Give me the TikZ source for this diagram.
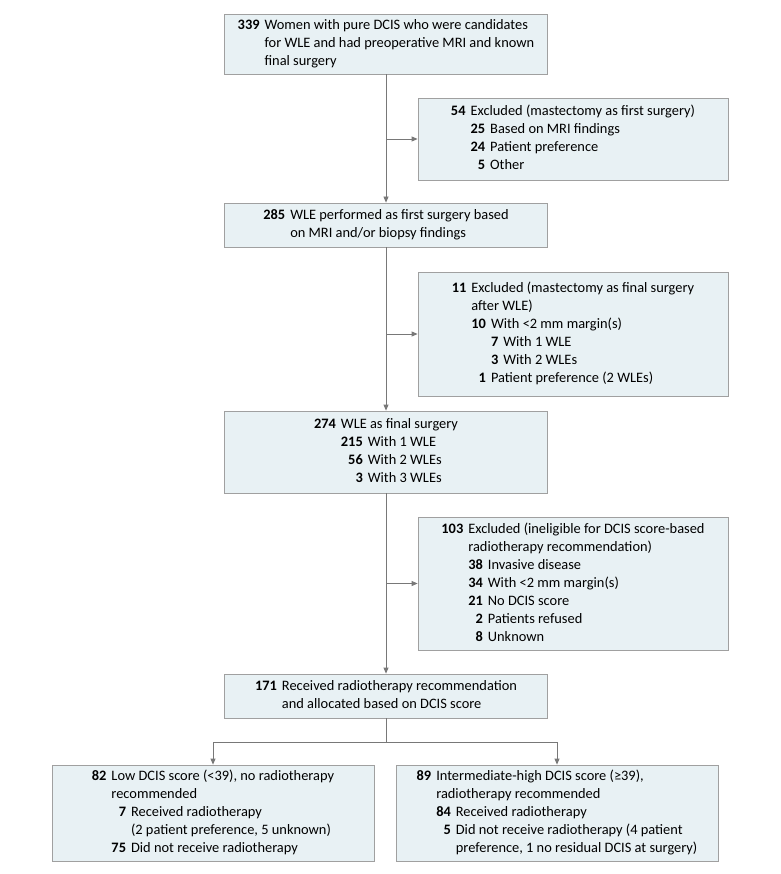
\documentclass[tikz,border=0pt]{standalone}
\usepackage{fontspec}
\setmainfont{Carlito}
\usepackage{array}
\usetikzlibrary{arrows.meta,positioning,calc}

\definecolor{boxfill}{RGB}{232,241,244}
\definecolor{boxline}{RGB}{160,160,160}
\definecolor{arrline}{RGB}{120,120,120}
\newcolumntype{N}{r@{\hspace{5pt}}}
\newcommand{\nb}[1]{\textbf{#1}}
\newcommand{\mc}[2]{\multicolumn{#1}{@{}l@{}}{#2}}

\begin{document}
\begin{tikzpicture}[x=1pt,y=-1pt,
  flowbox/.style={draw=boxline,fill=boxfill,line width=0.8pt,inner sep=0pt,
    font=\fontsize{14.4}{18}\selectfont},
  mainbox/.style={flowbox,minimum width=323pt},
  sidebox/.style={flowbox,minimum width=310pt},
  endbox/.style={flowbox,minimum width=322pt},
  link/.style={draw=arrline,line width=0.8pt},
  arr/.style={link,-{Triangle[length=6pt,width=5pt]}}]
  \useasboundingbox (0,0) rectangle (780,874); % 図全体の大きさ

  % 中央の流れ（対象者の絞り込み）
  \node[mainbox,minimum height=60pt] (b339) at (386,44) {\begin{tabular}{@{}Nl@{}}
    \nb{339} & Women with pure DCIS who were candidates\\
    & for WLE and had preoperative MRI and known\\
    & final surgery
  \end{tabular}};
  \node[mainbox,minimum height=44pt] (b285) at (386,225) {\begin{tabular}{@{}Nl@{}}
    \nb{285} & WLE performed as first surgery based\\
    & on MRI and/or biopsy findings
  \end{tabular}};
  \node[mainbox,minimum height=82pt] (b274) at (386,452) {\begin{tabular}{@{}NNl@{}}
    \nb{274} & \mc{2}{WLE as final surgery}\\
    & \nb{215} & With 1 WLE\\
    & \nb{56} & With 2 WLEs\\
    & \nb{3} & With 3 WLEs
  \end{tabular}};
  \node[mainbox,minimum height=44pt] (b171) at (386,696) {\begin{tabular}{@{}Nl@{}}
    \nb{171} & Received radiotherapy recommendation\\
    & and allocated based on DCIS score
  \end{tabular}};

  % 右側の除外ボックス
  \node[sidebox,minimum height=82pt] (x54) at (573,139) {\begin{tabular}{@{}NNl@{}}
    \nb{54} & \mc{2}{Excluded (mastectomy as first surgery)}\\
    & \nb{25} & Based on MRI findings\\
    & \nb{24} & Patient preference\\
    & \nb{5} & Other
  \end{tabular}};
  \node[sidebox,minimum height=124pt] (x11) at (573,334) {\begin{tabular}{@{}NNNl@{}}
    \nb{11} & \mc{3}{Excluded (mastectomy as final surgery}\\
    & \mc{3}{after WLE)}\\
    & \nb{10} & \mc{2}{With <2 mm margin(s)}\\
    & & \nb{7} & With 1 WLE\\
    & & \nb{3} & With 2 WLEs\\
    & \nb{1} & \mc{2}{Patient preference (2 WLEs)}
  \end{tabular}};
  \node[sidebox,minimum height=133pt] (x103) at (573,583.5) {\begin{tabular}{@{}NNl@{}}
    \nb{103} & \mc{2}{Excluded (ineligible for DCIS score-based}\\
    & \mc{2}{radiotherapy recommendation)}\\
    & \nb{38} & Invasive disease\\
    & \nb{34} & With <2 mm margin(s)\\
    & \nb{21} & No DCIS score\\
    & \nb{2} & Patients refused\\
    & \nb{8} & Unknown
  \end{tabular}};

  % 下段：DCIS スコアによる2群
  \node[endbox,minimum height=96pt] (lo82) at (213,813) {\begin{tabular}{@{}NNl@{}}
    \nb{82} & \mc{2}{Low DCIS score (<39), no radiotherapy}\\
    & \mc{2}{recommended}\\
    & \nb{7} & Received radiotherapy\\
    & & (2 patient preference, 5 unknown)\\
    & \nb{75} & Did not receive radiotherapy
  \end{tabular}};
  \node[endbox,minimum height=96pt] (hi89) at (557,813) {\begin{tabular}{@{}NNl@{}}
    \nb{89} & \mc{2}{Intermediate-high DCIS score (≥39),}\\
    & \mc{2}{radiotherapy recommended}\\
    & \nb{84} & Received radiotherapy\\
    & \nb{5} & Did not receive radiotherapy (4 patient\\
    & & preference, 1 no residual DCIS at surgery)
  \end{tabular}};

  % 縦の流れと除外への分岐
  \draw[arr] (b339) -- (b285);
  \draw[arr] (b339.south |- x54.west) -- (x54.west);
  \draw[arr] (b285) -- (b274);
  \draw[arr] (b285.south |- x11.west) -- (x11.west);
  \draw[arr] (b274) -- (b171);
  \draw[arr] (b274.south |- x103.west) -- (x103.west);

  % 2群への分岐
  \coordinate (split) at ($(b171.south)+(0,24)$);
  \draw[link] (b171) -- (split);
  \draw[arr] (split) -| (lo82);
  \draw[arr] (split) -| (hi89);
\end{tikzpicture}
\end{document}
